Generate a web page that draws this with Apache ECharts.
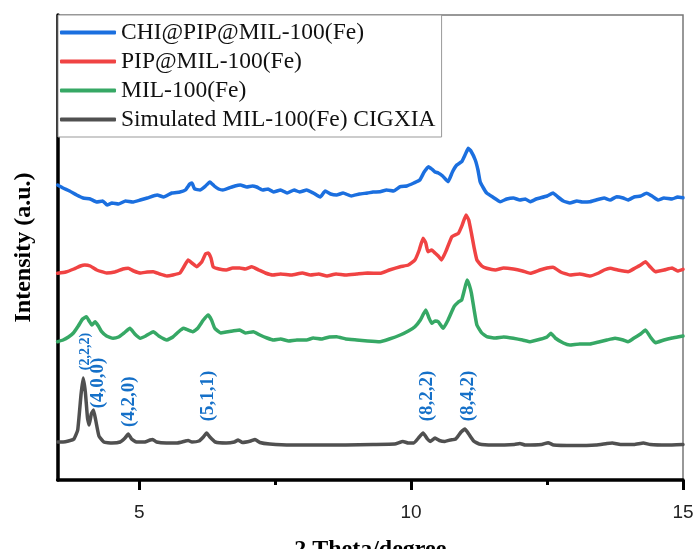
<!DOCTYPE html>
<html>
<head>
<meta charset="utf-8">
<script src="https://cdn.jsdelivr.net/npm/echarts@6/dist/echarts.min.js"></script>
<style>
html,body{margin:0;padding:0;background:#fff;}
#chart{width:694px;height:549px;}
</style>
</head>
<body>
<div id="chart"></div>
<script>
// ---- data ----
const seriesNames = ['CHI@PIP@MIL-100(Fe)', 'PIP@MIL-100(Fe)', 'MIL-100(Fe)', 'Simulated MIL-100(Fe) CIGXIA'];

const chiX = [3.5,3.6,3.72,3.85,3.97,4.1,4.22,4.33,4.41,4.5,4.62,4.75,4.88,5.02,5.15,5.33,5.45,5.6,5.75,5.85,5.93,5.97,6.02,6.12,6.22,6.3,6.38,6.46,6.54,6.65,6.76,6.86,6.98,7.08,7.16,7.27,7.37,7.47,7.6,7.72,7.85,7.95,8.08,8.2,8.33,8.42,8.52,8.63,8.75,8.9,9.05,9.2,9.3,9.43,9.55,9.68,9.8,9.92,10.05,10.16,10.24,10.32,10.38,10.44,10.5,10.58,10.68,10.76,10.84,10.93,11.0,11.05,11.1,11.18,11.23,11.27,11.33,11.39,11.5,11.64,11.76,11.88,12.0,12.1,12.19,12.3,12.37,12.5,12.61,12.7,12.8,12.92,13.05,13.15,13.29,13.4,13.55,13.66,13.78,13.9,13.99,14.1,14.22,14.33,14.43,14.54,14.65,14.8,14.9,15];
const chiY = [295,292,289,285,282,281,278,279,275,277,276,279,278,280,282,285,283,287,288,290,296,297,291,290,294,298,294,291,290,292,294,295,293,294,293,290,291,288,290,287,290,288,290,287,283,289,286,285,287,284,286,287,288,288.3,290,289,293.3,294,297,300,308,313.3,311,308,307,304,298.3,308,315,318.3,326,331.7,329,320,310,298.3,292,287,283,278.3,281,282,280,281,278.3,281,282,284,287,283,279,277,279,278,278.3,280,282,280,283.3,282,280,283,284,286.7,284,280,282,281,283,282.3];

const pipX = [3.5,3.65,3.8,3.92,4.0,4.1,4.22,4.4,4.55,4.7,4.8,4.9,5.02,5.15,5.26,5.38,5.51,5.62,5.75,5.83,5.9,5.97,6.06,6.15,6.22,6.27,6.32,6.36,6.47,6.6,6.72,6.85,6.95,7.07,7.2,7.32,7.46,7.6,7.8,8.0,8.15,8.3,8.45,8.62,8.8,9.0,9.2,9.43,9.6,9.8,9.95,10.07,10.15,10.22,10.27,10.31,10.38,10.44,10.5,10.56,10.65,10.75,10.87,10.94,11.01,11.06,11.11,11.16,11.21,11.3,11.39,11.55,11.7,11.88,12.05,12.19,12.37,12.5,12.61,12.75,12.92,13.1,13.29,13.45,13.55,13.66,13.8,13.99,14.12,14.22,14.31,14.4,14.49,14.65,14.8,14.9,15];
const pipY = [206.7,208,211,214,215,214,210,207,208,211,211.7,209,207,208,208.3,206,204,205,207,214,220,217,213.3,218,226,227,222,213.3,211,210,212,212,211,213.3,210,207,205,206,205,207,205,206,204,206,205,206,207,206.7,210,213.3,215,220,230,241.7,237,228.3,230,227,224,220,230,243.3,246.7,255,265,260,246.7,232,220,214,211.7,210,212,211,209,206.7,210,212,212.7,208,205,206,204,207,210,211.7,210,208.3,212,215,218.3,213,208.3,210,212,209,210.7];

const milX = [3.5,3.6,3.7,3.79,3.88,3.96,4.03,4.08,4.13,4.19,4.25,4.31,4.4,4.52,4.62,4.72,4.83,4.92,5.02,5.12,5.26,5.36,5.51,5.62,5.72,5.81,5.9,5.99,6.08,6.18,6.27,6.33,6.39,6.5,6.6,6.72,6.85,6.95,7.1,7.22,7.35,7.47,7.6,7.75,7.9,8.08,8.2,8.35,8.5,8.63,8.8,9.0,9.2,9.43,9.6,9.8,9.95,10.07,10.17,10.27,10.33,10.38,10.44,10.5,10.59,10.68,10.79,10.87,10.93,10.98,11.03,11.07,11.11,11.16,11.21,11.3,11.39,11.55,11.7,11.88,12.05,12.19,12.37,12.5,12.57,12.65,12.8,12.92,13.1,13.29,13.45,13.6,13.75,13.9,13.99,14.1,14.22,14.31,14.4,14.49,14.65,14.8,14.9,15];
const milY = [138.3,140,143,147,154,161,163.3,159,155,158.3,154,148.3,144,141.7,143,147,151.7,146,141.7,144,148.3,144,140,143,148,151.7,150,148.3,152,160,165,160,151.7,147,148,149,150,147,148.3,145,142,140,141,139,140,140,142,141,143,143.3,141,140,139,138.3,141,145,149,153.3,160,170,162,156.7,159,158.3,151.7,160,173.3,178,180,190,200,195,186.7,170,155,147,143.3,142,143,141.7,140,138.3,140.7,143,146.7,142,137,135,136,136,138,140,141.7,140,138.3,142,146,150,143,137.3,140,142,143,144];

const simX = [3.5,3.6,3.7,3.8,3.87,3.93,3.97,4.01,4.05,4.08,4.12,4.16,4.2,4.26,4.35,4.5,4.65,4.74,4.8,4.86,4.95,5.1,5.2,5.25,5.32,5.5,5.7,5.85,5.9,5.97,6.1,6.18,6.24,6.3,6.4,6.6,6.75,6.82,6.9,7.05,7.13,7.22,7.4,7.8,8.3,8.8,9.3,9.7,9.85,9.95,10.05,10.15,10.22,10.3,10.35,10.44,10.52,10.62,10.72,10.82,10.92,10.99,11.06,11.15,11.25,11.5,11.9,12.0,12.1,12.4,12.52,12.62,13.0,13.4,13.6,13.7,13.85,14.1,14.27,14.4,14.7,15];
const simY = [38,38,39,41,50,85,102,88,62,55,66,70,60,44,38,37,38,42,46,41,38,38,40,40.5,38,37,37,39,39.5,38,39,43,47,43,38,37,38,40,37.5,39,40.5,37.5,36,35,35,35,35.5,36,38.5,37,37,43,47,41,38.5,42,39.5,38.5,40,41,48,51,46,39,36,35,35.5,36.5,35,35.5,37.3,35,34.5,35,36.5,37,35.5,35.5,37,35.5,35,35.5];

// Miller index annotations (anchored in data coordinates)
const hklLabels = ['(2,2,2)', '(4,0,0)', '(4,2,0)', '(5,1,1)', '(8,2,2)', '(8,4,2)'];
const hklX = [4.01, 4.24, 4.81, 6.27, 10.29, 11.05];
const hklY = [128.5, 97, 78.3, 84, 84, 84];
const hklSize = [14, 19, 19, 19, 19, 19];

const xTicks = [5, 10, 15];
const xMinorTicks = [7.5, 12.5];

const colors = ['#1b6fdf', '#f04343', '#36a865', '#505050'];

function pairs(xs, ys) { return xs.map((x, i) => [x, ys[i]]); }

const chart = echarts.init(document.getElementById('chart'), null, {renderer: 'canvas'});

const lineSeries = [[chiX, chiY], [pipX, pipY], [milX, milY], [simX, simY]].map((d, i) => ({
  name: seriesNames[i],
  type: 'line',
  data: pairs(d[0], d[1]),
  showSymbol: false,
  smooth: 0.12,
  color: colors[i],
  lineStyle: {width: 3.5, color: colors[i], cap: 'round', join: 'round'},
  z: 5 - i
}));

chart.setOption({
  animation: false,
  backgroundColor: '#fff',
  grid: {left: 57.6, right: 11, top: 15, bottom: 69, outerBoundsMode: 'none', containLabel: false,
    show: true, borderColor: '#777', borderWidth: 1.5, backgroundColor: 'transparent'},
  legend: {
    data: seriesNames,
    orient: 'vertical',
    left: 58,
    top: 15,
    padding: [5, 6, 5, 2],
    itemGap: 4,
    itemWidth: 56,
    itemHeight: 4,
    icon: 'roundRect',
    backgroundColor: '#fff',
    borderColor: '#999',
    borderWidth: 1,
    borderRadius: 0,
    textStyle: {fontFamily: 'Liberation Serif', fontSize: 23.5, color: '#111', lineHeight: 25, padding: 0}
  },
  xAxis: [{
    type: 'value',
    min: 3.5,
    max: 15,
    name: '2 Theta/degree',
    nameLocation: 'middle',
    nameGap: 58,
    nameTextStyle: {fontFamily: 'Liberation Serif', fontWeight: 'bold', fontSize: 24, color: '#000'},
    axisLine: {show: true, onZero: false, lineStyle: {color: '#000', width: 3.5}},
    axisTick: {show: true, length: 10, customValues: xTicks, lineStyle: {color: '#000', width: 3}},
    axisLabel: {show: true, customValues: xTicks, margin: 23, fontFamily: 'Liberation Sans', fontSize: 19, color: '#222'},
    splitLine: {show: false}
  }, {
    type: 'value',
    min: 3.5,
    max: 15,
    position: 'bottom',
    axisLine: {show: false},
    axisTick: {show: true, length: 5, customValues: xMinorTicks, lineStyle: {color: '#000', width: 3}},
    axisLabel: {show: false},
    splitLine: {show: false}
  }],
  yAxis: {
    type: 'value',
    min: 0,
    max: 465,
    name: 'Intensity (a.u.)',
    nameLocation: 'middle',
    nameGap: 22,
    nameTextStyle: {fontFamily: 'Liberation Serif', fontWeight: 'bold', fontSize: 24, color: '#000'},
    axisLine: {show: true, lineStyle: {color: '#000', width: 3.5}},
    axisTick: {show: false},
    axisLabel: {show: false},
    splitLine: {show: false}
  },
  series: lineSeries
});

// place the Miller-index texts through the chart's own scales
const hklGraphics = hklLabels.map((t, i) => {
  const p = chart.convertToPixel({xAxisIndex: 0, yAxisIndex: 0}, [hklX[i], hklY[i]]);
  return {
    type: 'text',
    x: p[0],
    y: p[1],
    rotation: Math.PI / 2,
    z: 100,
    style: {
      text: t,
      fill: '#1570c8',
      font: 'bold ' + hklSize[i] + 'px "Liberation Serif"',
      align: 'center',
      verticalAlign: 'middle'
    }
  };
});
chart.setOption({graphic: hklGraphics});
</script>
</body>
</html>
